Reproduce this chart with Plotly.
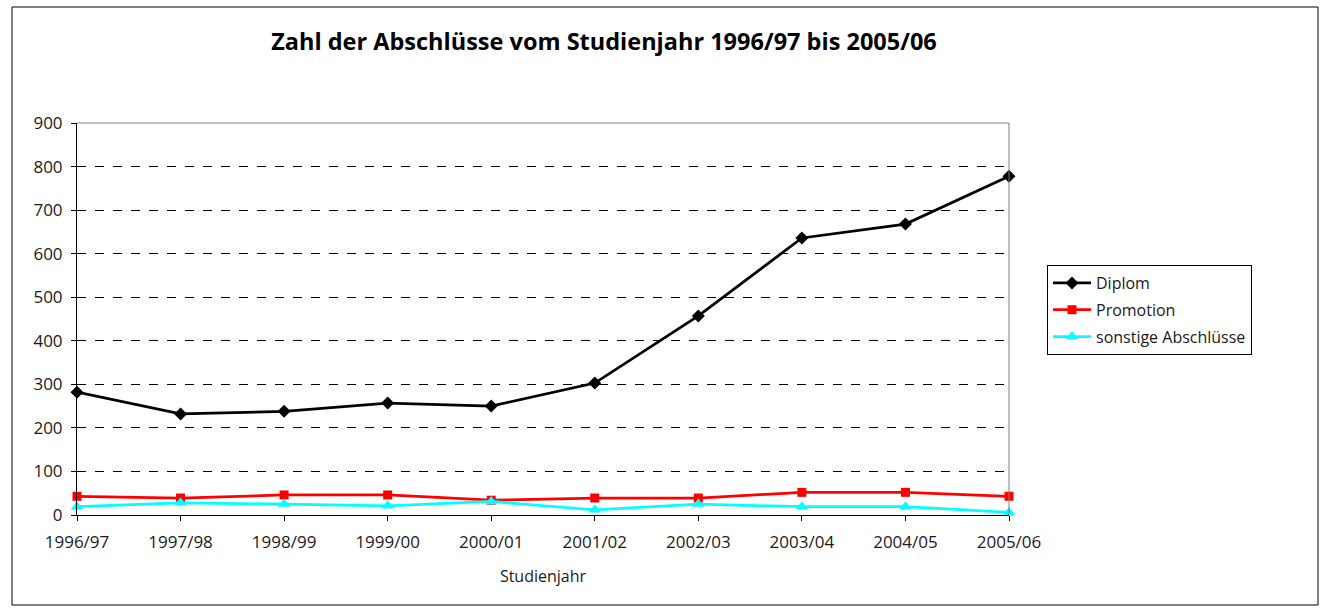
import plotly.graph_objects as go

years = ["1996/97", "1997/98", "1998/99", "1999/00", "2000/01",
         "2001/02", "2002/03", "2003/04", "2004/05", "2005/06"]
diplom = [282, 232, 238, 257, 250, 303, 457, 636, 668, 778]
promotion = [43, 39, 46, 46, 34, 39, 39, 52, 52, 43]
sonstige = [19, 28, 25, 21, 31, 12, 25, 19, 19, 6]
y_ticks = [0, 100, 200, 300, 400, 500, 600, 700, 800, 900]

W, H = 1325, 611
L, R, T, B = 77, 1009, 123, 515
pw, ph = R - L, B - T

def px(x):
    return (x - L) / pw

def py(y):
    return (B - y) / ph

font = "Open Sans, Noto Sans, sans-serif"
xs = list(range(len(years)))
fig = go.Figure()
fig.add_trace(go.Scatter(x=xs, y=diplom, name="Diplom", legendgroup="a",
                         mode="lines+markers", line=dict(color="black", width=2.75),
                         marker=dict(symbol="diamond", size=10, color="black"),
                         cliponaxis=False))
fig.add_trace(go.Scatter(x=xs, y=promotion, name="Promotion", legendgroup="b",
                         mode="lines+markers", line=dict(color="#ff0000", width=2.75),
                         marker=dict(symbol="square", size=9, color="#ff0000"),
                         cliponaxis=False))
fig.add_trace(go.Scatter(x=xs, y=sonstige, name="sonstige Abschlüsse", legendgroup="c",
                         mode="lines+markers", line=dict(color="#00ffff", width=2.75),
                         marker=dict(symbol="triangle-up", size=11, color="#00ffff"),
                         cliponaxis=False))

fig.update_layout(
    width=W, height=H,
    margin=dict(l=L, r=W - R, t=T, b=H - B, pad=0),
    paper_bgcolor="white", plot_bgcolor="white",
    font=dict(family=font, size=16, color="#1a1a1a"),
    title=dict(text="<b>Zahl der Abschlüsse vom Studienjahr 1996/97 bis 2005/06</b>",
               x=px(604), xref="paper", xanchor="center",
               y=1 - 42 / H, yanchor="middle",
               font=dict(family=font, size=23.5, color="black")),
    xaxis=dict(range=[0, len(years) - 1], tickmode="array",
               tickvals=xs, ticktext=years,
               showgrid=False, zeroline=False, showline=True, linecolor="black",
               linewidth=1, ticks="outside", ticklen=5, tickcolor="black",
               tickfont=dict(size=17), ticklabelstandoff=7,
               title=dict(text="Studienjahr", font=dict(size=16), standoff=18)),
    yaxis=dict(range=[0, 900], tickmode="array", tickvals=y_ticks,
               showgrid=True, gridcolor="black", griddash="dash", gridwidth=1,
               zeroline=False, showline=True, linecolor="black", linewidth=1,
               ticks="outside", ticklen=5, tickcolor="black",
               tickfont=dict(size=17), ticklabelstandoff=5),
    legend=dict(x=px(1047), y=py(265), xanchor="left", yanchor="top",
                bordercolor="black", borderwidth=1, bgcolor="white",
                font=dict(size=16), tracegroupgap=3, itemwidth=38),
    shapes=[
        dict(type="rect", xref="paper", yref="paper",
             x0=px(12), x1=px(1318), y0=py(605), y1=py(7),
             line=dict(color="black", width=1), layer="below"),
        dict(type="line", xref="paper", yref="paper",
             x0=0, x1=1, y0=1, y1=1, line=dict(color="#808080", width=1)),
        dict(type="line", xref="paper", yref="paper",
             x0=1, x1=1, y0=0, y1=1, line=dict(color="#808080", width=1)),
    ],
)

fig.write_html("out.html", config={"displayModeBar": False},
               post_script="document.body.style.margin='0';")
